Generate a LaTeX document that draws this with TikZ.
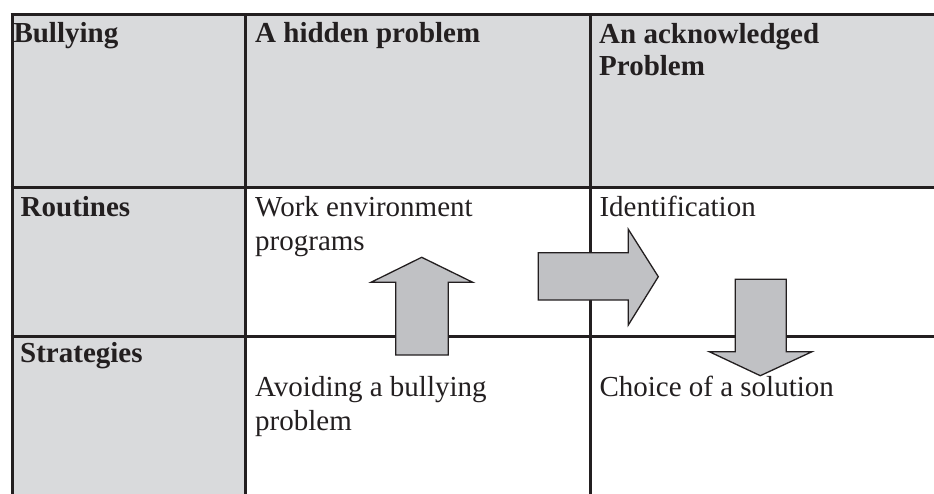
\documentclass[tikz,border=0pt]{standalone}
\usepackage{fontspec}
\setmainfont{Liberation Serif}
\definecolor{cellgray}{HTML}{D9DADC}
\definecolor{arrowgray}{HTML}{C0C1C4}
\definecolor{ink}{HTML}{231F20}
\tikzset{
  grid/.style={draw=ink, line width=3pt},
  blockarrow/.style={draw=ink, fill=arrowgray, line width=1.3pt, line join=miter},
  head/.style={anchor=base west, inner sep=0pt, align=left, text=ink, font=\fontsize{29}{32}\selectfont\bfseries},
  cell/.style={anchor=base west, inner sep=0pt, align=left, text=ink, font=\fontsize{29}{34}\selectfont},
}
\begin{document}
\begin{tikzpicture}[x=1pt,y=-1pt]
\useasboundingbox (0,0) rectangle (934,494);
% fills
\fill[cellgray] (12,15) rectangle (934,188);
\fill[cellgray] (12,188) rectangle (245,494);
% grid lines
\draw[grid] (10.5,15) -- (934,15);
\draw[grid] (10.5,188) -- (934,188);
\draw[grid] (10.5,336.5) -- (934,336.5);
\draw[grid] (12,13.5) -- (12,494);
\draw[grid] (245,13.5) -- (245,494);
\draw[grid] (590,13.5) -- (590,494);
% texts (multi-line nodes: base = last line)
\node[head] (bul) at (13.3,42.7) {Bullying};
\node[head] (hid) at (255,42.7) {A hidden problem};
\node[head] (ack) at (599,75.7) {An acknowledged\\Problem};
\node[head] (rou) at (20.5,217) {Routines};
\node[head] (str) at (20,362.3) {Strategies};
\node[cell] (wep) at (255,250.7) {Work environment\\programs};
\node[cell] (idn) at (599.3,216.7) {Identification};
\node[cell] (avd) at (255,430) {Avoiding a bullying\\problem};
\node[cell] (cho) at (599.3,396.7) {Choice of a solution};
% block arrows
\draw[blockarrow] (395.7,355) -- (395.7,282.3) -- (371,282.3) -- (421.7,257.3)
  -- (472.7,282.3) -- (448.3,282.3) -- (448.3,355) -- cycle;
\draw[blockarrow] (538.3,252.7) -- (628.3,252.7) -- (628.3,229.3) -- (658.3,276.7)
  -- (628.3,325) -- (628.3,300) -- (538.3,300) -- cycle;
\draw[blockarrow] (735.3,279.3) -- (786.3,279.3) -- (786.3,351.7) -- (812,351.7)
  -- (760.3,375.7) -- (709.3,351.7) -- (735.3,351.7) -- cycle;
\end{tikzpicture}
\end{document}
